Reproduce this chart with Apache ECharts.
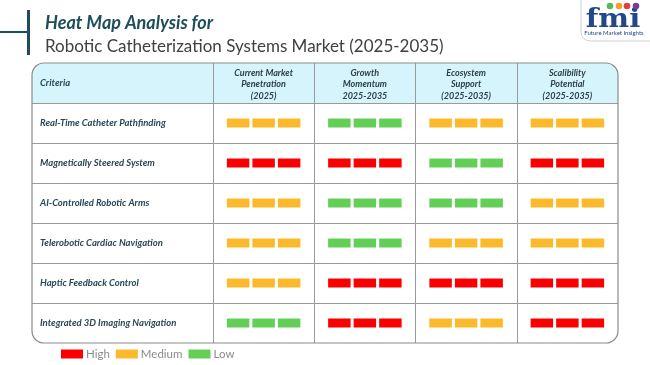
<!DOCTYPE html>
<html><head><meta charset="utf-8">
<script src="https://cdn.jsdelivr.net/npm/echarts@6/dist/echarts.min.js"></script>
<style>html,body{margin:0;padding:0;background:#fff}#c{width:650px;height:365px}</style>
</head><body><div id="c"></div>
<script>
// ---- data ----
const titleLine1 = 'Heat Map Analysis for';
const titleLine2 = 'Robotic Catheterization Systems Market (2025-2035)';
const headerLabel = 'Criteria';
const criteria = ['Real-Time Catheter Pathfinding','Magnetically Steered System','AI-Controlled Robotic Arms','Telerobotic Cardiac Navigation','Haptic Feedback Control','Integrated 3D Imaging Navigation'];
const columns = ['Current Market\nPenetration\n(2025)','Growth\nMomentum\n2025-2035','Ecosystem\nSupport\n(2025-2035)','Scalibility\nPotential\n(2025-2035)'];
const levels = ['High','Medium','Low'];
const marketPenetration = ['Medium','High','Medium','Medium','Medium','Low'];
const growthMomentum = ['Low','High','Low','Low','High','High'];
const ecosystemSupport = ['Medium','Low','Low','Medium','High','Medium'];
const scalabilityPotential = ['Medium','High','Medium','Medium','High','High'];

// ---- styles ----
const levelColors = {High:'#fb0000', Medium:'#fbb92c', Low:'#63cf57'};
const FONT = 'Lato';
const rowCats = [headerLabel].concat(criteria);
const columnValues = [marketPenetration, growthMomentum, ecosystemSupport, scalabilityPotential];

function renderBars(params, api){
  const pt = api.coord([api.value(0), api.value(1)]);
  const sz = api.size([1,1]);
  const w = sz[0]*0.222, gap = sz[0]*0.03, h = 9;
  const fill = api.visual('color');
  const children = [];
  for (let i=0;i<3;i++){
    children.push({type:'rect', shape:{x: pt[0]-1.5*w-gap+i*(w+gap), y: pt[1]-h/2, width:w, height:h}, style:{fill: fill}});
  }
  return {type:'group', children: children};
}

const series = levels.map(function(lv){
  const data = [];
  columnValues.forEach(function(col, c){
    col.forEach(function(v, r){ if (v === lv) data.push([c, r+1]); });
  });
  return {type:'custom', name: lv, xAxisIndex:1, yAxisIndex:1, renderItem: renderBars,
    itemStyle:{color: levelColors[lv]}, encode:{x:0,y:1}, data: data, z: 5};
});

const splitStyle = {color:'#9a9a9a', width:1};
const chart = echarts.init(document.getElementById('c'), null, {renderer:'canvas'});
chart.setOption({
  animation:false,
  title:[
    {text:titleLine1, left:40, top:8, textStyle:{fontFamily:FONT, fontSize:18, fontStyle:'italic', fontWeight:'bold', color:'#1e4d5c', lineHeight:20}},
    {text:titleLine2, left:40, top:32, textStyle:{fontFamily:FONT, fontSize:17, fontWeight:'normal', color:'#404040', lineHeight:20}}
  ],
  legend:{data:levels, left:61, top:348, padding:0, icon:'rect', itemWidth:22, itemHeight:9, itemGap:6,
    textStyle:{color:'#8a8a8a', fontSize:11.5, fontFamily:FONT, padding:[0,0,0,-2]}},
  grid:[
    {left:32, top:63, width:181, height:280},
    {left:213, top:63, width:405, height:280}
  ],
  xAxis:[
    {type:'category', gridIndex:0, data:[''], show:false},
    {type:'category', gridIndex:1, data:columns, position:'top',
      axisLine:{show:false}, axisTick:{show:false},
      axisLabel:{inside:true, interval:0, margin:4, lineHeight:11.5, fontFamily:FONT, fontSize:9, fontStyle:'italic', fontWeight:'bold', color:'#2e3e48', align:'center', verticalAlign:'top'},
      splitLine:{show:true, interval:0, showMinLine:true, showMaxLine:false, lineStyle:splitStyle}}
  ],
  yAxis:[
    {type:'category', gridIndex:0, data:rowCats, inverse:true,
      axisLine:{show:false}, axisTick:{show:false},
      axisLabel:{inside:true, margin:8, interval:0, fontFamily:FONT, fontSize:9.5, fontStyle:'italic', fontWeight:'bold', color:'#2a4656', align:'left'},
      splitLine:{show:true, interval:0, showMinLine:false, showMaxLine:false, lineStyle:splitStyle}},
    {type:'category', gridIndex:1, data:rowCats, inverse:true,
      axisLine:{show:false}, axisTick:{show:false}, axisLabel:{show:false},
      splitLine:{show:true, interval:0, showMinLine:false, showMaxLine:false, lineStyle:splitStyle}}
  ],
  graphic:[
    {type:'rect', z:-10, silent:true, shape:{x:32, y:63, width:586, height:40, r:[12,12,0,0]}, style:{fill:'#d5f4fc'}},
    {type:'rect', z:100, silent:true, shape:{x:32, y:63, width:586, height:280, r:12}, style:{fill:null, stroke:'#8c8c8c', lineWidth:1.2}},
    {type:'rect', silent:true, shape:{x:27, y:10, width:3, height:45}, style:{fill:'#1d4e5e'}},
    {type:'rect', silent:true, shape:{x:0, y:31, width:28, height:2}, style:{fill:'#1d4e5e'}},
    {type:'rect', silent:true, shape:{x:581, y:-12, width:90, height:53, r:9}, style:{fill:'#fff', stroke:'#d0d0d0', lineWidth:1}},
    {type:'group', silent:true, x:613, y:33, scaleX:1.12, children:[
      {type:'text', x:0, y:0, style:{text:'fmi', font:'bold 26px "DejaVu Serif"', fill:'#23488a', align:'center', verticalAlign:'bottom'}}
    ]},
    {type:'circle', silent:true, shape:{cx:610, cy:6, r:3.3}, style:{fill:'#5cb85c'}},
    {type:'circle', silent:true, shape:{cx:619, cy:6, r:3.3}, style:{fill:'#f0a030'}},
    {type:'circle', silent:true, shape:{cx:627, cy:6, r:3.3}, style:{fill:'#e04040'}},
    {type:'circle', silent:true, shape:{cx:636, cy:6, r:3.3}, style:{fill:'#7a3a9a'}},
    {type:'text', silent:true, x:614, y:33.5, style:{text:'Future Market Insights', font:'6px Lato', fill:'#23488a', align:'center', verticalAlign:'middle'}}
  ],
  series: series
});
</script></body></html>
